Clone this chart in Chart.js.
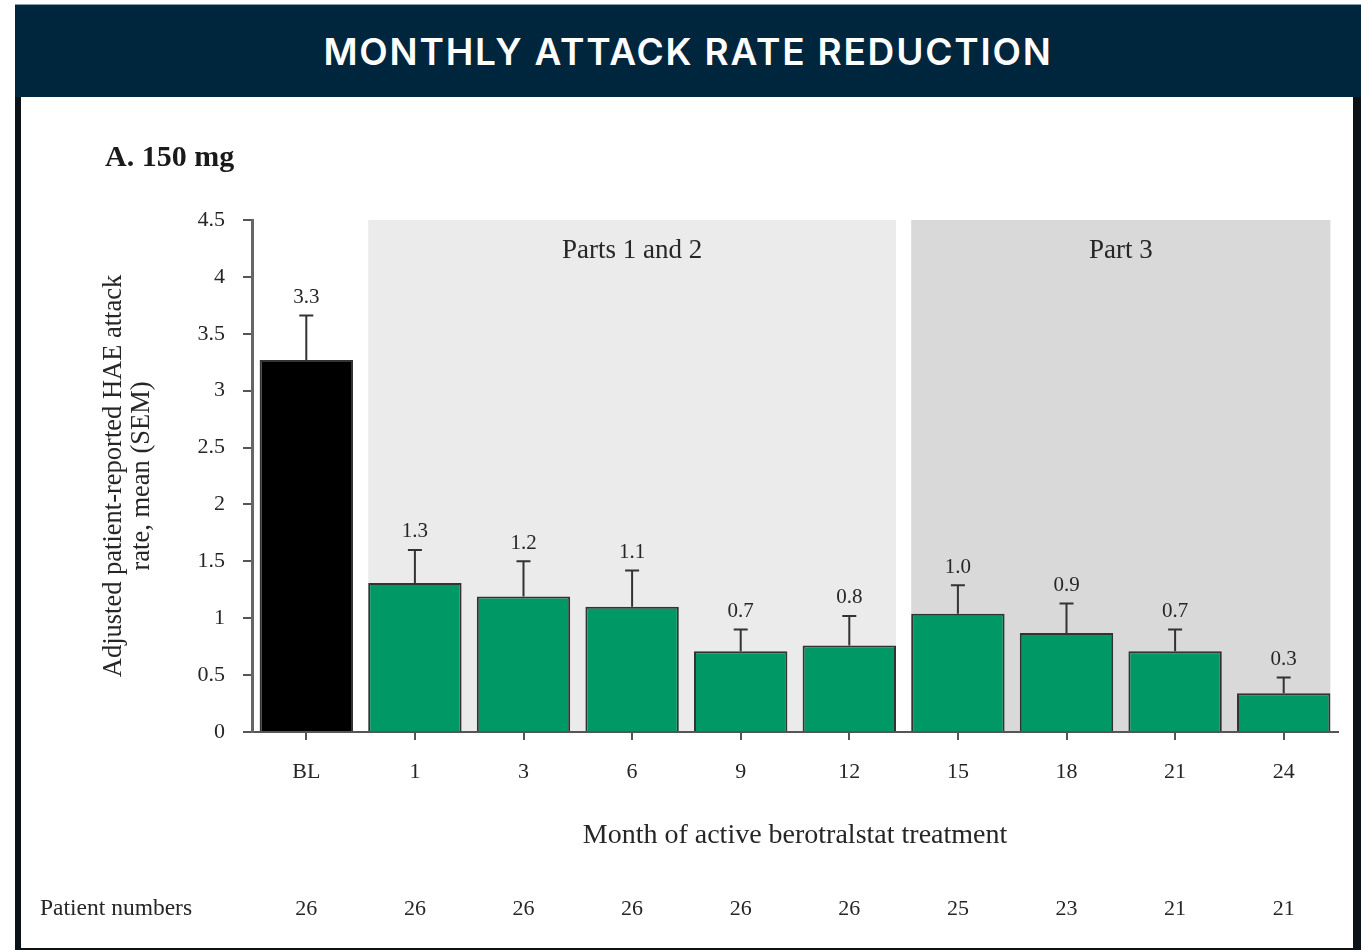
<!DOCTYPE html>
<html>
<head>
<meta charset="utf-8">
<title>Monthly attack rate reduction</title>
<script src="https://cdn.jsdelivr.net/npm/chart.js@4.4.1/dist/chart.umd.min.js"></script>
<style>
  html, body { margin: 0; padding: 0; background: #ffffff; }
  body { width: 1361px; height: 950px; position: relative; overflow: hidden; }
  #header {
    position: absolute; left: 15px; top: 4px; width: 1346px; height: 93px;
    box-sizing: border-box; border-top: 1px solid #8c9cab;
    background: #00263e; color: #ffffff;
    font-family: Inter, "Open Sans", sans-serif; font-weight: 600;
    font-size: 37px; letter-spacing: 1.8px;
    display: flex; align-items: center; justify-content: center;
  }
  #frame {
    position: absolute; left: 15px; top: 97px; width: 1346px; height: 853px;
    box-sizing: border-box;
    border-left: 6px solid #0b1218; border-right: 8px solid #0b1218; border-bottom: 2px solid #0b1218;
  }
  #chart { display: block; width: 1332px; height: 851px; }
</style>
</head>
<body>
<div id="header">MONTHLY ATTACK RATE REDUCTION</div>
<div id="frame"><canvas id="chart" width="1332" height="851"></canvas></div>
<script>
// Month of treatment (BL = baseline)
const categories = ['BL', '1', '3', '6', '9', '12', '15', '18', '21', '24'];
// Adjusted patient-reported HAE attacks per month, mean
const meanAttackRate = [3.27, 1.31, 1.19, 1.10, 0.71, 0.76, 1.04, 0.87, 0.71, 0.34];
// Standard error of the mean (upper whisker)
const semUpper = [0.39, 0.29, 0.31, 0.32, 0.19, 0.26, 0.25, 0.26, 0.19, 0.14];
// Patients contributing at each month
const patientNumbers = [26, 26, 26, 26, 26, 26, 25, 23, 21, 21];
// Value axis ticks
const yTickValues = [0, 0.5, 1, 1.5, 2, 2.5, 3, 3.5, 4, 4.5];
const yTickLabels = ['0', '0.5', '1', '1.5', '2', '2.5', '3', '3.5', '4', '4.5'];
// Study parts, given as first and last month index they cover
const studyParts = [
  { label: 'Parts 1 and 2', first: 1, last: 5 },
  { label: 'Part 3', first: 6, last: 9 }
];

// Styling
const serif = '"Liberation Serif", "Times New Roman", Times, serif';
const ink = '#262626';
const partShades = ['#ebebeb', '#d9d9d9'];
const barColors = categories.map((c, i) => (i === 0 ? '#000000' : '#009966'));

// Shaded study-part panels behind the bars, with their captions
const partPanels = {
  id: 'partPanels',
  beforeDraw(chart) {
    const { ctx, scales: { y } } = chart;
    const bars = chart.getDatasetMeta(0).data;
    const top = y.getPixelForValue(4.5);
    const bottom = y.getPixelForValue(0) - 1;
    studyParts.forEach((p, k) => {
      const a = bars[p.first], b = bars[p.last];
      const x0 = a.x - a.width / 2;
      const x1 = b.x + b.width / 2;
      ctx.save();
      ctx.fillStyle = partShades[k];
      ctx.fillRect(x0, top, x1 - x0, bottom - top);
      ctx.fillStyle = ink;
      ctx.font = '27px ' + serif;
      ctx.textAlign = 'center';
      ctx.textBaseline = 'middle';
      ctx.fillText(p.label, (x0 + x1) / 2, top + 31);
      ctx.restore();
    });
  }
};

// Upper SEM whiskers and the mean value printed above each
const semBars = {
  id: 'semBars',
  afterDatasetsDraw(chart) {
    const { ctx, scales: { y } } = chart;
    const bars = chart.getDatasetMeta(0).data;
    ctx.save();
    bars.forEach((bar, i) => {
      const yBar = y.getPixelForValue(meanAttackRate[i]);
      const yTop = y.getPixelForValue(meanAttackRate[i] + semUpper[i]);
      ctx.strokeStyle = '#333333';
      ctx.lineWidth = 2;
      ctx.beginPath();
      ctx.moveTo(bar.x, yBar);
      ctx.lineTo(bar.x, yTop);
      ctx.moveTo(bar.x - 7, yTop);
      ctx.lineTo(bar.x + 7, yTop);
      ctx.stroke();
      ctx.fillStyle = ink;
      ctx.font = '21px ' + serif;
      ctx.textAlign = 'center';
      ctx.textBaseline = 'middle';
      ctx.fillText(meanAttackRate[i].toFixed(1), bar.x, yTop - 18);
    });
    ctx.restore();
  }
};

// Panel letter and the patient-number row under the axis
const annotations = {
  id: 'annotations',
  afterDraw(chart) {
    const { ctx } = chart;
    const bars = chart.getDatasetMeta(0).data;
    ctx.save();
    ctx.fillStyle = '#1a1a1a';
    ctx.font = 'bold 30px ' + serif;
    ctx.textAlign = 'left';
    ctx.textBaseline = 'middle';
    ctx.fillText('A. 150 mg', 84, 61);

    ctx.fillStyle = ink;
    ctx.font = '23.5px ' + serif;
    ctx.fillText('Patient numbers', 19, 812);
    ctx.font = '22px ' + serif;
    ctx.textAlign = 'center';
    bars.forEach((bar, i) => ctx.fillText(String(patientNumbers[i]), bar.x, 812));
    ctx.restore();
  }
};

new Chart(document.getElementById('chart'), {
  type: 'bar',
  data: {
    labels: categories,
    datasets: [{
      data: meanAttackRate,
      backgroundColor: barColors,
      borderColor: '#333333',
      borderWidth: 2,
      barPercentage: 0.86,
      categoryPercentage: 1
    }]
  },
  options: {
    responsive: false,
    animation: false,
    devicePixelRatio: 1,
    layout: { padding: { left: 0, right: 15, top: 123, bottom: 0 } },
    plugins: { legend: { display: false }, tooltip: { enabled: false } },
    scales: {
      x: {
        offset: true,
        grid: { offset: false, drawOnChartArea: false, drawTicks: true, tickLength: 8, color: '#555555', lineWidth: 2 },
        border: { display: true, color: '#555555', width: 2 },
        ticks: { color: ink, font: { family: serif, size: 22 }, padding: 19, maxRotation: 0, autoSkip: false },
        title: {
          display: true,
          text: 'Month of active berotralstat treatment',
          color: ink,
          font: { family: serif, size: 28 },
          padding: { top: 0, bottom: 96 }
        },
        afterFit(scale) { scale.height = 216; }
      },
      y: {
        min: 0,
        max: 4.5,
        afterBuildTicks(scale) { scale.ticks = yTickValues.map(v => ({ value: v })); },
        ticks: {
          color: ink,
          font: { family: serif, size: 22 },
          padding: 18,
          callback: (v) => yTickLabels[yTickValues.indexOf(v)]
        },
        grid: { drawOnChartArea: false, drawTicks: true, tickLength: 9, color: '#555555', lineWidth: 2 },
        border: { display: true, color: '#666666', width: 3 },
        title: {
          display: true,
          text: ['Adjusted patient-reported HAE attack', 'rate, mean (SEM)'],
          color: ink,
          font: { family: serif, size: 26.5, lineHeight: 1.06 },
          padding: { top: 79, bottom: 0 }
        },
        afterFit(scale) { scale.width = 231; }
      }
    }
  },
  plugins: [partPanels, semBars, annotations]
});
</script>
</body>
</html>
